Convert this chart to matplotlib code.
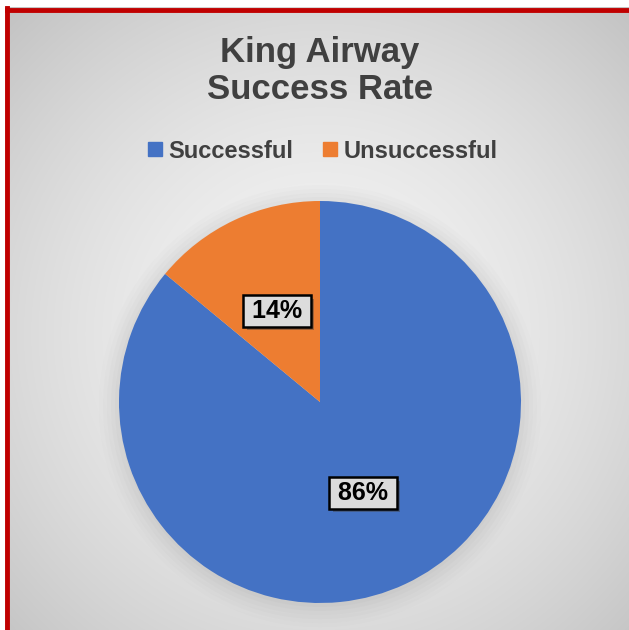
import numpy as np
import matplotlib
matplotlib.use("Agg")
import matplotlib.pyplot as plt
from matplotlib.lines import Line2D
import matplotlib.patheffects as pe

# Data
categories = ["Successful", "Unsuccessful"]
values = [86, 14]
colors = ["#4472c4", "#ed7d31"]
title = "King Airway\nSuccess Rate"

W, H = 629, 630
fig = plt.figure(figsize=(W / 100, H / 100), dpi=100)
fig.patch.set_facecolor("white")

# Background with radial gradient
bg = fig.add_axes([0, 0, 1, 1])
bg.axis("off")
yy, xx = np.mgrid[0:H, 0:W]
cx, cy = 318, 330
r = np.sqrt((xx - cx) ** 2 + (yy - cy) ** 2) / np.sqrt(cx ** 2 + cy ** 2)
light, dark = 0.96, 0.76
g = light - (light - dark) * np.clip(r, 0, 1) ** 1.6
img = np.dstack([g, g, g])
bg.imshow(img, extent=(5, W, H, 7), zorder=0, interpolation="bilinear", aspect="auto")
bg.set_xlim(0, W)
bg.set_ylim(H, 0)
# Red border (top and left)
bg.add_line(Line2D([7, W], [9.5, 9.5], color="#c00000", lw=3.5, zorder=2))
bg.add_line(Line2D([7, 7], [8, H], color="#c00000", lw=3.5, zorder=2))

# Pie axes
pcx, pcy, pr = 320, 402, 201
ax = fig.add_axes([(pcx - pr) / W, (H - pcy - pr) / H, 2 * pr / W, 2 * pr / H])
ax.axis("off")

# soft shadow around the pie
for k, a in zip(np.linspace(1.10, 1.0, 6), [0.02, 0.025, 0.03, 0.035, 0.04, 0.045]):
    ax.add_patch(plt.Circle((0.0, -0.02), k, color="#808080", alpha=a, lw=0,
                            zorder=0, clip_on=False))

wedges, texts, autotexts = ax.pie(
    values, colors=colors, startangle=90, counterclock=False,
    autopct=lambda p: f"{p:.0f}%", pctdistance=0.5, radius=1,
    wedgeprops=dict(linewidth=0),
    textprops=dict(fontsize=18, fontweight="bold", color="black", family="Liberation Sans"),
)
ax.set_xlim(-1, 1)
ax.set_ylim(-1, 1)
for t in autotexts:
    t.set_text("\u2009" + t.get_text() + "\u2009")
    t.set_bbox(dict(boxstyle="square,pad=0.15", facecolor="#dcdcdc", edgecolor="black", linewidth=1.8))
    t.get_bbox_patch().set_path_effects([pe.SimplePatchShadow(offset=(2.5, -2.5), alpha=0.45), pe.Normal()])

# Title
fig.text(320 / W, 1 - 71 / H, title, ha="center", va="center", fontsize=25,
         fontweight="bold", color="#404040", family="Liberation Sans", linespacing=1.12)

# Legend
handles = [Line2D([], [], marker="s", linestyle="none", markersize=9.4,
                  markerfacecolor=c, markeredgecolor=c) for c in colors]
leg = fig.legend(handles, categories, loc="center", bbox_to_anchor=(323 / W, 1 - 151 / H),
                 ncol=2, frameon=False, handlelength=0.55, handletextpad=0.3,
                 columnspacing=1.27, borderaxespad=0,
                 prop=dict(size=17, weight="bold", family="Liberation Sans"))
for t in leg.get_texts():
    t.set_color("#404040")

fig.savefig("out.png", dpi=100)
